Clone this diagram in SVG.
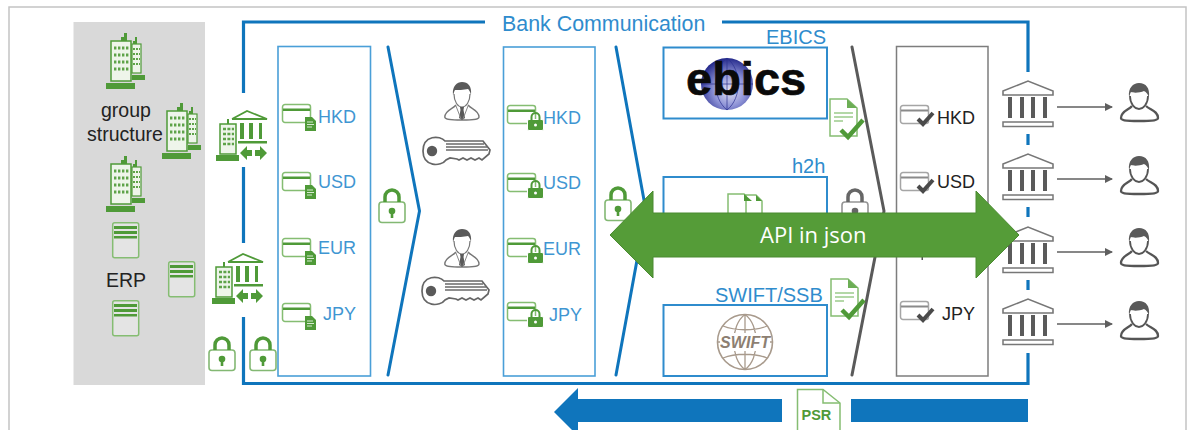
<svg xmlns="http://www.w3.org/2000/svg" width="1191" height="430" viewBox="0 0 1191 430">
<style>
text{font-family:"Liberation Sans",Arial,sans-serif}
.b{fill:#3f96d2;font-size:18px}
.b2{fill:#2f8ccd;font-size:20px}
.k{fill:#222;font-size:18px}
.t{fill:#222;font-size:19.5px}
.bl{fill:none;stroke:#0f75bc;stroke-width:3.200}
.box{fill:#fff;stroke:#4a9fd8;stroke-width:1.600}
.box2{fill:#fff;stroke:#2f8ccd;stroke-width:2}
.g{fill:#4f9a38}
.gs{fill:none;stroke:#4f9a38}
.lg{fill:#fff;stroke:#85bd72;stroke-width:1.500}
.dk{fill:#5a5a5a}
.ds{fill:none;stroke:#5f5f5f;stroke-width:1.600}
</style>
<defs>
<radialGradient id="globe" cx="0.55" cy="0.62" r="0.62"><stop offset="0" stop-color="#e4e5f5"/><stop offset="0.5" stop-color="#8d92d6"/><stop offset="1" stop-color="#23288a"/></radialGradient>
<marker id="ah" viewBox="0 0 8 8" refX="7" refY="4" markerWidth="8" markerHeight="8" markerUnits="userSpaceOnUse" orient="auto"><path d="M0 0L8 4L0 8Z" fill="#5f5f5f"/></marker>
<symbol id="bld" width="40" height="57" overflow="visible">
<rect x="5" y="8" width="20" height="40" fill="#eef5ea" stroke="#4f9a38" stroke-width="1.500"/>
<g stroke="#5ea349" stroke-width="3" stroke-dasharray="2.400 1.600"><path d="M8 15H23M8 22H23M8 29H23M8 36H23"/></g>
<rect x="26" y="11" width="9" height="29" fill="#eef5ea" stroke="#4f9a38" stroke-width="1.200"/>
<g stroke="#5ea349" stroke-width="2" stroke-dasharray="2 1"><path d="M27 16H34M27 21H34M27 26H34M27 31H34"/></g>
<path class="g" d="M15 8V4H18V0H21V8ZM27 11V8H29V4H31V11Z"/>
<rect class="g" x="0" y="50" width="29" height="6"/><rect class="g" x="26" y="42" width="13" height="5"/>
</symbol>
<symbol id="bankb" width="52" height="52" overflow="visible">
<rect x="4" y="14" width="16" height="30" fill="#eef5ea" stroke="#4f9a38" stroke-width="1.500"/>
<g stroke="#5ea349" stroke-width="2.400" stroke-dasharray="3 1.400"><path d="M7 19H18M7 24H18M7 29H18M7 34H18"/></g>
<path class="g" d="M11 14V9H13V14Z"/>
<rect class="g" x="0" y="45" width="23" height="6"/>
<path class="gs" stroke-width="1.800" d="M16 9L31 1L51 9H16"/>
<path class="g" d="M24 13H28V29H24ZM33 13H37V29H33ZM43 13H46V29H43ZM22 31H51V33.500H22Z"/>
<path class="g" d="M24 43L31 36V40H36V46H31V50ZM51 43L44 36V40H39V46H44V50Z"/>
</symbol>
<symbol id="card" width="30" height="20" overflow="visible">
<rect class="lg" x="0.500" y="0.500" width="28" height="18" rx="2.500"/><rect class="g" x="1" y="4.500" width="27" height="2.500"/>
</symbol>
<symbol id="cdoc" width="36" height="28" overflow="visible">
<use href="#card"/>
<path class="g" d="M23 13H30L34 17V27H23Z"/><path d="M25 18H31M25 20.500H32M25 23H30" stroke="#d6ead0" stroke-width="1"/>
</symbol>
<symbol id="clock" width="38" height="28" overflow="visible">
<use href="#card"/>
<rect x="20.500" y="14.500" width="16" height="11" rx="1.500" fill="#4f9a38" stroke="#fff"/>
<path d="M24.500 15V12A4 4 0 0 1 32.500 12V15" fill="none" stroke="#4f9a38" stroke-width="2"/>
<circle cx="28.500" cy="20" r="1.500" fill="#fff"/>
</symbol>
<symbol id="ccheck" width="36" height="24" overflow="visible">
<rect x="0.500" y="0.500" width="28" height="18" rx="2.500" fill="#fff" stroke="#a5a5a5" stroke-width="1.500"/><rect x="1" y="4.500" width="27" height="2" fill="#8a8a8a"/>
<path d="M18 14L23 19L33 8" fill="none" stroke="#4a4a4a" stroke-width="4"/>
</symbol>
<symbol id="lock" width="30" height="36" overflow="visible">
<path d="M7 14V9A7 7 0 0 1 21 9V14" fill="none" stroke="currentColor" stroke-width="3.500"/>
<rect x="1" y="14" width="26" height="20.500" rx="3" fill="#fff" stroke="currentColor" stroke-opacity="0.700" stroke-width="1.600"/>
<circle cx="14" cy="23" r="3.300" fill="currentColor"/><rect x="12.700" y="24" width="2.600" height="6" fill="currentColor"/>
</symbol>
<symbol id="srv" width="28" height="37" overflow="visible">
<rect x="0.700" y="0.700" width="26" height="35" rx="2" fill="#fff" fill-opacity="0.300" stroke="#85bd72" stroke-width="1.500"/>
<path class="g" d="M2 4H25V7H2ZM2 9H25V12H2ZM2 14H25V16.500H2Z"/>
</symbol>
<symbol id="bank" width="54" height="48" overflow="visible">
<path d="M1 11L26 1L51 11V15H1Z" fill="#fff" stroke="#777" stroke-width="1.600"/>
<path class="dk" d="M6 17H10V38H6ZM18 17H22V38H18ZM29 17H33V38H29ZM41 17H45V38H41Z"/>
<rect x="1" y="42" width="50" height="4.500" fill="#fff" stroke="#777" stroke-width="1.500"/>
</symbol>
<symbol id="usr" width="40" height="40" overflow="visible">
<path d="M12 23C9 27 1 28 1 35C1 37 4 38 19 38C34 38 38 37 38 35C38 28 30 27 26 23" fill="#fff" stroke="#555" stroke-width="2.300"/>
<path d="M10 13C10 21 15 26 19 26C23 26 28 21 28 13" fill="#fff" stroke="#555" stroke-width="1.800"/>
<path class="dk" d="M9 14C8 5 13 0 19 0C26 0 30 5 29 14C27 10 26 9 24 8C20 10 13 10 11 9C10 10 10 12 9 14Z"/>
</symbol>
<symbol id="man" width="38" height="40" overflow="visible">
<path d="M12 23C9 27 1 28 0.800 35C0.800 37 4 38 18 38C32 38 35 37 35 35C35 28 27 27 24 23" fill="#fff" stroke="#777" stroke-width="1.400"/>
<path d="M10 12C10 20 14 25 18 25C22 25 26 20 26 12" fill="#fff" stroke="#777" stroke-width="1.200"/>
<path class="dk" d="M9 13C8 4 13 0 18 0C24 0 28 4 27 13C26 9 25 8 24 7C20 8 13 8 11 8C10 9 10 11 9 13Z"/>
<path class="dk" d="M16 25H20L19.500 28L21 36L18 38L15 36L16.500 28Z"/>
<path d="M12 24L17 37M24 24L19 37" stroke="#888" fill="none"/>
</symbol>
<symbol id="key" width="70" height="32" overflow="visible">
<path d="M23 5C18 -1 1 -1 1 15C1 31 19 31 24 24L28 22L35 23L37 24L41 22L45 24L49 22L53 24L57 22L60 24L67 18L68 14L61 5Z" fill="#fff" stroke="#666" stroke-width="1.700"/>
<circle class="dk" cx="10" cy="15" r="5.200"/>
<path d="M24 8H62M24 11H65M24 14H66" stroke="#6a6a6a" stroke-width="1.500" fill="none"/>
</symbol>
<symbol id="dchk" width="36" height="42" overflow="visible">
<path class="lg" d="M1 1H18L28 10V38H1Z"/><path d="M18 1V10H28Z" fill="#6cae55"/>
<path d="M5 15H24M5 19H24M5 23H14" stroke="#9ccb8c" stroke-width="1.300" fill="none"/>
</symbol>
</defs>

<path id="page-frame" d="M9 430V7H1186V430" fill="none" stroke="#c4c4c4" stroke-width="1.500"/>

<g id="group-panel">
<rect x="73.500" y="22" width="131.500" height="363" fill="#d9d9d9"/>
<text class="t" x="101" y="117">group</text>
<text class="t" x="87" y="141">structure</text>
<text class="t" x="106" y="287">ERP</text>
<use href="#bld" x="106" y="33"/><use href="#bld" x="162" y="103"/><use href="#bld" x="106" y="156"/>
<use href="#srv" x="112" y="222"/><use href="#srv" x="168" y="261"/><use href="#srv" x="112" y="300"/>
</g>

<g id="bank-communication">
<path class="bl" d="M243.500 93V22H485M722 22H1028V72M1028 134V145M1028 207V217M1028 280V290M1028 353V383.500H243.500V317M243.500 243V167"/>
<text x="502" y="31" fill="#2f8ccd" font-size="21.400px">Bank Communication</text>
</g>

<g id="connectors">
<path d="M388 47L419.500 211L388 375" fill="none" stroke="#0f75bc" stroke-width="3" stroke-linecap="round"/>
<path d="M616 47L646 211L616 375" fill="none" stroke="#0f75bc" stroke-width="3" stroke-linecap="round"/>
<path d="M1057 107H1112" class="ds" marker-end="url(#ah)"/>
<path d="M1057 179H1112" class="ds" marker-end="url(#ah)"/>
<path d="M1057 252H1112" class="ds" marker-end="url(#ah)"/>
<path d="M1057 324H1112" class="ds" marker-end="url(#ah)"/>
</g>

<g id="bank-gateway-1"><use href="#bankb" x="216" y="110"/></g>
<g id="bank-gateway-2"><use href="#bankb" x="212" y="253"/></g>
<g id="lock-a" color="#4f9a38"><use href="#lock" x="208" y="336"/></g>
<g id="lock-b" color="#4f9a38"><use href="#lock" x="249" y="336"/></g>
<g id="lock-c" color="#4f9a38"><use href="#lock" x="378" y="188"/></g>
<g id="lock-d" color="#4f9a38"><use href="#lock" x="604" y="186"/></g>

<g id="accounts-unsigned">
<rect class="box" x="278" y="46.500" width="92.500" height="329.500"/>
<use href="#cdoc" x="282" y="104"/><use href="#cdoc" x="282" y="172"/><use href="#cdoc" x="282" y="238"/><use href="#cdoc" x="282" y="303"/>
<text class="b" x="318" y="123">HKD</text><text class="b" x="318" y="188">USD</text><text class="b" x="318" y="254">EUR</text><text class="b" x="323" y="320">JPY</text>
</g>

<g id="signer-1"><use href="#man" x="444" y="82"/><use href="#key" x="422" y="136"/></g>
<g id="signer-2"><use href="#man" x="444" y="229"/><use href="#key" x="421" y="276"/></g>

<g id="accounts-signed">
<rect class="box" x="503.500" y="47" width="91.500" height="329"/>
<use href="#clock" x="507" y="105"/><use href="#clock" x="507" y="173"/><use href="#clock" x="507" y="238"/><use href="#clock" x="507" y="302"/>
<text class="b" x="543" y="124">HKD</text><text class="b" x="543" y="189">USD</text><text class="b" x="543" y="255">EUR</text><text class="b" x="549" y="321">JPY</text>
</g>

<g id="ebics">
<rect class="box2" x="663.500" y="47.500" width="163.500" height="71"/>
<circle cx="727" cy="84" r="26" fill="url(#globe)"/>
<path d="M701 84H753M727 58V110M727 58C712 70 712 98 727 110M727 58C742 70 742 98 727 110" fill="none" stroke="#2b3090" stroke-width="0.700"/>
<text x="686" y="95" font-size="47" font-weight="700" fill="#0a0a0a" stroke="#0a0a0a" stroke-width="0.600">ebics</text>
<text class="b2" x="766" y="44">EBICS</text>
</g>

<g id="h2h">
<rect class="box2" x="663.500" y="177" width="163.500" height="60"/>
<text class="b2" x="792" y="173">h2h</text>
<path class="lg" d="M728 194H744L752 200V214H728Z"/><path class="lg" d="M746 195H756L762 201V214H746Z"/>
<path class="g" d="M744 194L752 201H744ZM756 195L762 201H756Z"/>
</g>

<g id="swift">
<rect class="box2" x="663.500" y="305" width="163.500" height="71"/>
<circle cx="745" cy="342" r="27.500" fill="#fff" stroke="#a89a8c" stroke-width="1.600"/>
<path d="M717.500 342H772.500M745 314.500V369.500M745 314.500C730 325 730 359 745 369.500M745 314.500C760 325 760 359 745 369.500M723 326C735 331 755 331 767 326M723 358C735 353 755 353 767 358" fill="none" stroke="#a89a8c" stroke-width="1.300"/>
<rect x="720" y="333" width="50" height="18" fill="#fff"/>
<text x="720" y="348" font-family="Liberation Serif,serif" font-size="16" font-weight="700" font-style="italic" fill="#8d7f72" textLength="50">SWIFT</text>
<text class="b2" x="715" y="302">SWIFT/SSB</text>
</g>

<g id="accounts-confirmed">
<rect x="896.500" y="46.500" width="91.500" height="329.500" fill="#fff" stroke="#7d7d7d" stroke-width="1.500"/>
<use href="#ccheck" x="900" y="105"/><use href="#ccheck" x="900" y="172"/><use href="#ccheck" x="900" y="301"/>
<rect x="921.500" y="256" width="1.500" height="4" fill="#555"/>
<text class="k" x="937" y="123.500">HKD</text><text class="k" x="937" y="188">USD</text><text class="k" x="942" y="320">JPY</text>
</g>

<path id="gray-chevron" d="M852 47L884 211L852 375" fill="none" stroke="#5a5a5a" stroke-width="3" stroke-linecap="round"/>

<g id="lock-gray" color="#666"><use href="#lock" x="841" y="188"/></g>
<g id="doc-check-1"><use href="#dchk" x="829" y="98"/><path d="M841 130L848 137L863 120" fill="none" stroke="#4f9a38" stroke-width="4.500"/></g>
<g id="doc-check-2"><use href="#dchk" x="830" y="278"/><path d="M842 310L849 317L864 300" fill="none" stroke="#4f9a38" stroke-width="4.500"/></g>

<g id="bank-1"><use href="#bank" x="1002" y="80"/></g>
<g id="bank-2"><use href="#bank" x="1002" y="153"/></g>
<g id="bank-3"><use href="#bank" x="1002" y="226"/></g>
<g id="bank-4"><use href="#bank" x="1002" y="298"/></g>
<g id="user-1"><use href="#usr" x="1120" y="83"/></g>
<g id="user-2"><use href="#usr" x="1120" y="156"/></g>
<g id="user-3"><use href="#usr" x="1120" y="228"/></g>
<g id="user-4"><use href="#usr" x="1120" y="301"/></g>

<g id="api-arrow">
<path d="M610 235L653 191V213H976V191L1019 235L976 278V257H653V278Z" fill="#559c38" stroke="#4a8a30"/>
<text x="760" y="243" fill="#fff" font-size="22" style="font-family:'Open Sans',sans-serif">API in json</text>
</g>

<g id="psr-arrow">
<path d="M554 412L578 388V399H782V422H578V436Z" fill="#0f75bc"/>
<rect x="851" y="399" width="177" height="23" fill="#0f75bc"/>
</g>
<g id="psr">
<path d="M797.500 389.500H823L840 403V432H797.500Z" fill="#fff" stroke="#85bd72" stroke-width="1.500"/><path d="M823 389.500V403H840" fill="none" stroke="#85bd72" stroke-width="1.500"/>
<text x="801.500" y="420" font-size="14.500" font-weight="700" fill="#4f9a38">PSR</text>
</g>
</svg>
